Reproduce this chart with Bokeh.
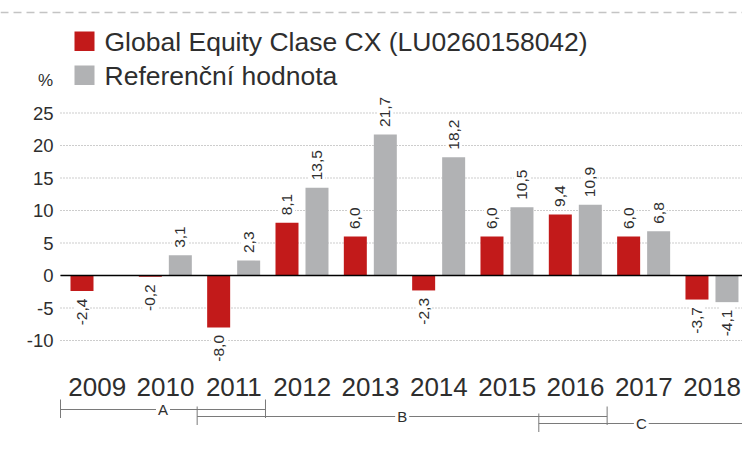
import math
from bokeh.plotting import figure
from bokeh.models import Range1d
from bokeh.embed import file_html
from bokeh.resources import INLINE
from bokeh.core.properties import value

# ---------------- data ----------------
years = ["2009", "2010", "2011", "2012", "2013", "2014", "2015", "2016", "2017", "2018"]
fund = [-2.4, -0.2, -8.0, 8.1, 6.0, -2.3, 6.0, 9.4, 6.0, -3.7]
bench = [None, 3.1, 2.3, 13.5, 21.7, 18.2, 10.5, 10.9, 6.8, -4.1]
series_names = ["Global Equity Clase CX (LU0260158042)", "Referenční hodnota"]
y_ticks = [-10, -5, 0, 5, 10, 15, 20, 25]
unit_label = "%"
period_labels = ["A", "B", "C"]
period_start = ["2009", "2011", "2016"]
period_end = ["2011", "2016", "2018"]

# ---------------- style / layout ----------------
RED = "#c21a1a"
GREY = "#b1b2b4"
TXT = "#2e2e2e"
FONT = "Liberation Sans"
W, H = 742, 449
PAGE = 0               # canvas offset on the page
LEFT = 60              # page x of first category start
GROUP = 68.33          # px per category
ZERO = 275             # page y of value 0
UNIT = 6.5             # px per value unit


def xd(px):
    return (px - LEFT) / GROUP


def yd(py):
    return (ZERO - py) / UNIT


p = figure(width=W, height=H, output_backend="svg", toolbar_location=None,
           x_range=Range1d(xd(PAGE), xd(PAGE + W)),
           y_range=Range1d(yd(PAGE + H), yd(PAGE)),
           x_axis_type=None, y_axis_type=None, min_border=0,
           outline_line_color=None, background_fill_color="white",
           border_fill_color="white")

# top dashed rule
p.segment(x0=[xd(0)], x1=[xd(742)], y0=[yd(12)], y1=[yd(12)],
          line_color="#c4c4c4", line_width=1.5, line_dash="8 5")

# legend
colors = [RED, GREY]
leg_tops = [31, 65]
for name, col, top in zip(series_names, colors, leg_tops):
    p.quad(left=[xd(74)], right=[xd(94)], top=[yd(top)], bottom=[yd(top + 19.5)],
           fill_color=col, line_color=None)
    p.text(x=[xd(104)], y=[yd(top + 10)], text=[name], text_font=value(FONT),
           text_font_size="26.5px", text_color=TXT, text_align="left",
           text_baseline="middle")

# unit label
p.text(x=[xd(45)], y=[yd(80)], text=[unit_label], text_font=value(FONT),
       text_font_size="17px", text_color=TXT, text_align="center",
       text_baseline="middle")

# gridlines + y tick labels
p.segment(x0=[xd(LEFT)] * len(y_ticks), x1=[xd(742)] * len(y_ticks),
          y0=y_ticks, y1=y_ticks, line_color="#9a9a9a", line_width=1,
          line_dash="1 2")
p.text(x=[xd(53)] * len(y_ticks), y=y_ticks, text=[str(t) for t in y_ticks],
       text_font=value(FONT), text_font_size="18.5px", text_color=TXT,
       text_align="right", text_baseline="middle")

# bars
RED_OFF, GREY_OFF, BW = 0.3147, 0.7537, 0.3366
idx = list(range(len(years)))
p.vbar(x=[i + RED_OFF for i in idx], top=fund, bottom=0, width=BW,
       fill_color=RED, line_color=None)
bi = [i for i in idx if bench[i] is not None]
p.vbar(x=[i + GREY_OFF for i in bi], top=[bench[i] for i in bi], bottom=0, width=BW,
       fill_color=GREY, line_color=None)

# zero line
p.segment(x0=[xd(LEFT)], x1=[xd(742)], y0=[0], y1=[0], line_color="black", line_width=1.6)

# value labels
def fmt(v):
    return f"{v:.1f}".replace(".", ",")

OFF = 4.5 / UNIT
pos_x, pos_y, pos_t, neg_x, neg_y, neg_t = [], [], [], [], [], []
for i in idx:
    for vals, off in ((fund, RED_OFF), (bench, GREY_OFF)):
        v = vals[i]
        if v is None:
            continue
        if v >= 0:
            pos_x.append(i + off); pos_y.append(v + OFF); pos_t.append(fmt(v))
        else:
            neg_x.append(i + off); neg_y.append(v - OFF); neg_t.append(fmt(v))

common = dict(text_font=value(FONT), text_font_size="15.5px", text_color=TXT,
              angle=math.pi / 2, text_baseline="middle",
              background_fill_color="white", padding=3)
p.text(x=pos_x, y=pos_y, text=pos_t, text_align="left", **common)
p.text(x=neg_x, y=neg_y, text=neg_t, text_align="right", **common)

# year labels
p.text(x=[i + 0.5 + 0.037 for i in idx], y=[yd(386)] * len(years), text=years,
       text_font=value(FONT), text_font_size="26px", text_color=TXT,
       text_align="center", text_baseline="middle")

# period brackets
for k, (lab, s, e) in enumerate(zip(period_labels, period_start, period_end)):
    s_i = years.index(s)
    e_i = years.index(e) + 1
    ypg = 409 + 7 * k
    p.segment(x0=[s_i], x1=[e_i], y0=[yd(ypg)], y1=[yd(ypg)],
              line_color="#7a7a7a", line_width=1)
    p.segment(x0=[s_i, e_i], x1=[s_i, e_i], y0=[yd(ypg - 10)] * 2, y1=[yd(ypg + 8.5)] * 2,
              line_color="#7a7a7a", line_width=1)
    p.text(x=[(s_i + e_i) / 2], y=[yd(ypg)], text=[lab], text_font=value(FONT),
           text_font_size="15px", text_color=TXT, text_align="center",
           text_baseline="middle", background_fill_color="white", padding=2)

open("out.html", "w").write(file_html(p, INLINE))
